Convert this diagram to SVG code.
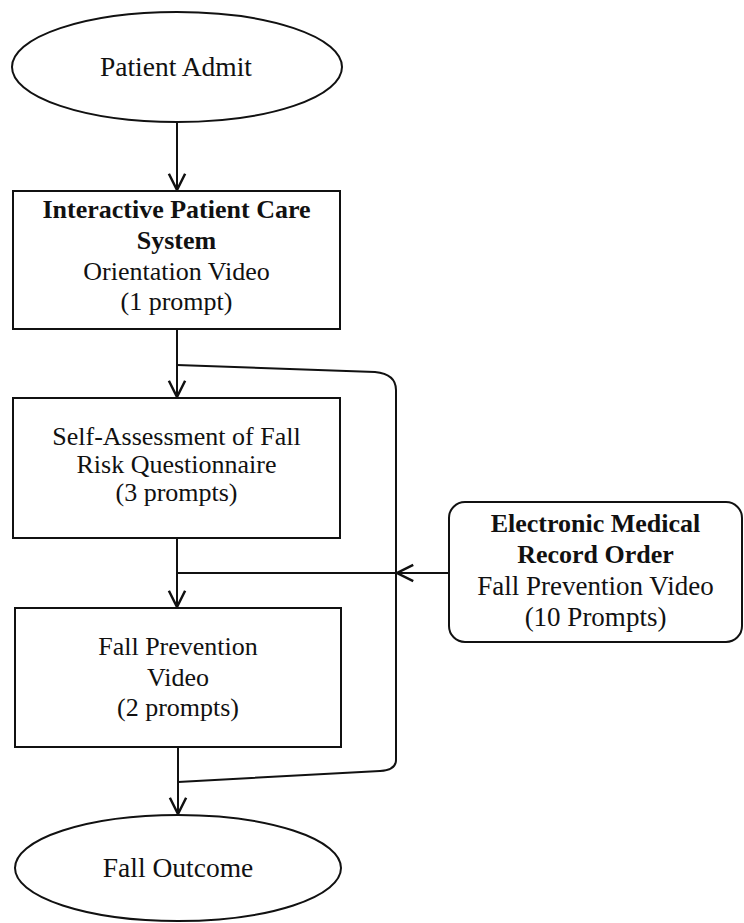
<svg xmlns="http://www.w3.org/2000/svg" width="744" height="923" viewBox="0 0 744 923">
<defs>
<style>
.shape{fill:#fff;stroke:#111;stroke-width:2}
.ln{fill:none;stroke:#111;stroke-width:2}
text{font-family:"Liberation Serif","Times New Roman",serif;font-size:26px;fill:#111;text-anchor:middle}
.b{font-weight:bold}
.big{font-size:27.5px}
.m{font-size:27px}
</style>
<marker id="arr" markerUnits="userSpaceOnUse" markerWidth="20" markerHeight="20" viewBox="-14 -8 16 16" refX="0" refY="0" orient="auto" overflow="visible">
<path d="M-13,-6.5 L0,0 L-13,6.5" fill="none" stroke="#111" stroke-width="2"/>
</marker>
</defs>
<rect width="744" height="923" fill="#fff"/>
<g id="connectors">
<path class="ln" d="M177,122 L177,190" marker-end="url(#arr)"/>
<path class="ln" d="M177,329 L177,397" marker-end="url(#arr)"/>
<path class="ln" d="M177,538 L177,607" marker-end="url(#arr)"/>
<path class="ln" d="M178,747 L178,814" marker-end="url(#arr)"/>
<path class="ln" d="M177,365 L375,372 Q396,374 396,390 L396,760 Q396,770 380,771 L178,782"/>
<path class="ln" d="M177,573 L396,573"/>
<path class="ln" d="M449,573 L397,573" marker-end="url(#arr)"/>
</g>
<g id="patient-admit">
<ellipse class="shape" cx="177" cy="67" rx="165" ry="55"/>
<text class="big" x="176" y="76">Patient Admit</text>
</g>
<g id="ipcs">
<rect class="shape" x="13" y="191" width="327" height="138"/>
<text class="b" x="176.5" y="218">Interactive Patient Care</text>
<text class="b" x="176.5" y="249">System</text>
<text x="176.5" y="280">Orientation Video</text>
<text x="176.5" y="310">(1 prompt)</text>
</g>
<g id="self-assessment">
<rect class="shape" x="13" y="398" width="327" height="140"/>
<text x="176.5" y="445">Self-Assessment of Fall</text>
<text x="176.5" y="473">Risk Questionnaire</text>
<text x="176.5" y="501">(3 prompts)</text>
</g>
<g id="emr">
<rect class="shape" x="449" y="502" width="293" height="140" rx="16"/>
<text class="b" x="595.5" y="532">Electronic Medical</text>
<text class="b" x="595.5" y="563">Record Order</text>
<text class="m" x="595.5" y="595">Fall Prevention Video</text>
<text class="m" x="595.5" y="626">(10 Prompts)</text>
</g>
<g id="fall-prevention">
<rect class="shape" x="15" y="608" width="326" height="139"/>
<text x="178" y="655">Fall Prevention</text>
<text x="178" y="686">Video</text>
<text x="178" y="716">(2 prompts)</text>
</g>
<g id="fall-outcome">
<ellipse class="shape" cx="178" cy="868" rx="163" ry="53"/>
<text class="big" x="178" y="877">Fall Outcome</text>
</g>
</svg>
